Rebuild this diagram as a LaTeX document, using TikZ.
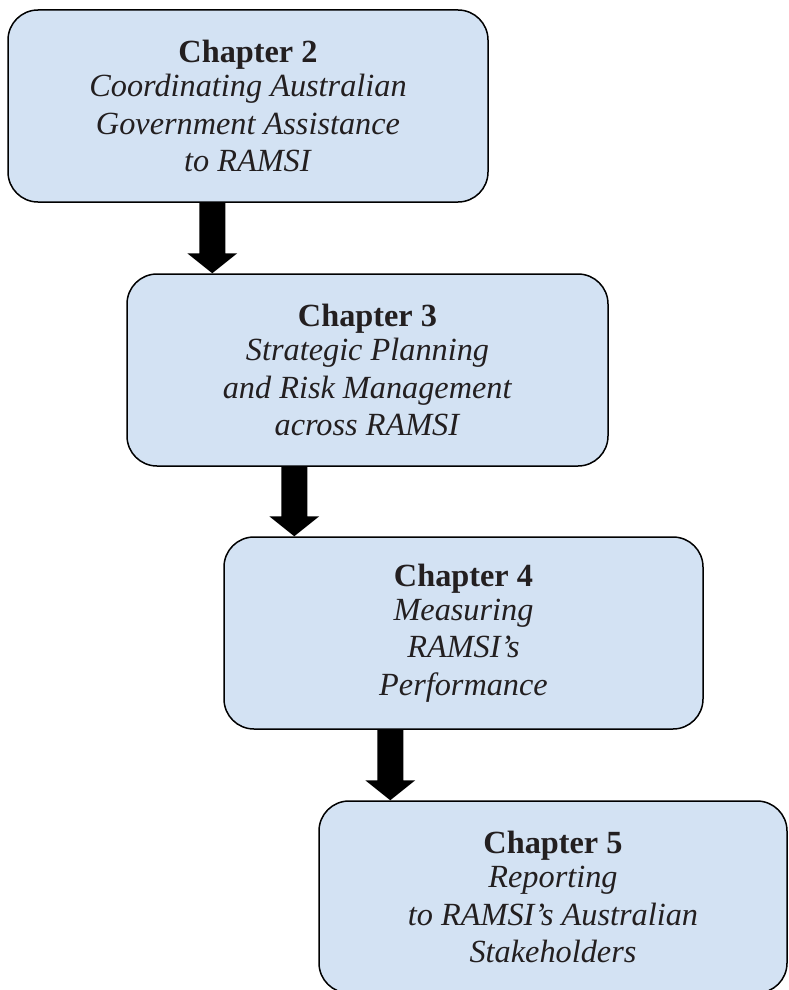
\documentclass[tikz,border=0pt]{standalone}
\usepackage{fontspec}
\setmainfont{Liberation Serif}
\usetikzlibrary{calc}
\definecolor{boxfill}{RGB}{211,226,243}
\definecolor{inkgray}{RGB}{35,31,32}
\begin{document}
\begin{tikzpicture}[x=1pt,y=-1pt,
  chapbox/.style={draw=black, line width=1.5pt, fill=boxfill, rounded corners=30pt,
    minimum height=192pt, align=center, inner sep=0pt, text=inkgray,
    font=\fontsize{32.3}{37.5}\selectfont},
  blockarrow/.style={fill=black}]
  \clip (0,0) rectangle (788,990);
  \fill[white] (0,0) rectangle (788,990);

  % chapter boxes
  \node[chapbox, minimum width=480pt] (c2) at (248,106)
    {\textbf{Chapter 2}\\[-3.5pt]\textit{Coordinating Australian}\\\textit{Government Assistance}\\\textit{to RAMSI}};
  \node[chapbox, minimum width=481pt] (c3) at (367.5,370)
    {\textbf{Chapter 3}\\[-3.5pt]\textit{Strategic Planning}\\\textit{and Risk Management}\\\textit{across RAMSI}};
  \node[chapbox, minimum width=479pt] (c4) at (463.5,633)
    {\textbf{Chapter 4}\\[-3.5pt]\textit{Measuring}\\\textit{RAMSI’s}\\\textit{Performance}};
  \node[chapbox, minimum width=468pt] (c5) at (553,897)
    {\textbf{Chapter 5}\\[-3.5pt]\textit{Reporting}\\\textit{to RAMSI’s Australian}\\\textit{Stakeholders}};

  % block arrows: shaft from the upper box, tip on the lower box
  \coordinate (a1) at ([xshift=86pt]c3.west |- c2.south);
  \coordinate (b1) at (a1 |- c3.north);
  \coordinate (a2) at ([xshift=71pt]c4.west |- c3.south);
  \coordinate (b2) at (a2 |- c4.north);
  \coordinate (a3) at ([xshift=72pt]c5.west |- c4.south);
  \coordinate (b3) at (a3 |- c5.north);
  \foreach \s/\t in {a1/b1, a2/b2, a3/b3}{
    \fill[blockarrow] ($(\s)+(-13,0)$) -- ($(\t)+(-13,-20)$) -- ($(\t)+(-25,-20)$)
      -- (\t) -- ($(\t)+(25,-20)$) -- ($(\t)+(13,-20)$) -- ($(\s)+(13,0)$) -- cycle;
  }
\end{tikzpicture}
\end{document}
